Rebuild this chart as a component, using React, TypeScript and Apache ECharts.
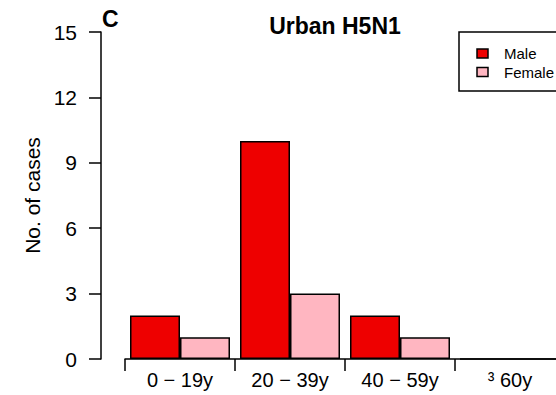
import React, { useEffect, useRef } from "react";
import * as echarts from "echarts";

const categories = ["0 − 19y", "20 − 39y", "40 − 59y", "³ 60y"];
const maleCases = [2, 10, 2, 0];
const femaleCases = [1, 3, 1, 0];
const seriesNames = ["Male", "Female"];
const yTicks = { min: 0, max: 15, interval: 3 };
const titleText = "Urban H5N1";
const panelLabel = "C";
const yAxisName = "No. of cases";

const MALE = "#EE0000";
const FEMALE = "#FFB6C1";
const FONT = "'Liberation Sans', Arial, Helvetica, sans-serif";

export default function App() {
  const ref = useRef<HTMLDivElement>(null);
  useEffect(() => {
    if (!ref.current) return;
    const chart = echarts.init(ref.current, undefined, { renderer: "svg" });
    chart.setOption({
      animation: false,
      backgroundColor: "#ffffff",
      textStyle: { fontFamily: FONT },
      grid: { left: 125, top: 32, width: 440, bottom: 36, containLabel: false },
      xAxis: {
        type: "category",
        data: categories,
        offset: 1,
        axisLine: { show: true, lineStyle: { color: "#000", width: 1.5 } },
        axisTick: { show: true, length: 12, alignWithLabel: false, lineStyle: { color: "#000", width: 1.5 } },
        axisLabel: { color: "#000", fontSize: 20, margin: 10, fontFamily: FONT, interval: 0 },
        splitLine: { show: false },
      },
      yAxis: {
        type: "value",
        min: yTicks.min,
        max: yTicks.max,
        interval: yTicks.interval,
        offset: 24,
        name: yAxisName,
        nameLocation: "middle",
        nameGap: 57,
        nameTextStyle: { color: "#000", fontSize: 21, fontFamily: FONT },
        axisLine: { show: true, lineStyle: { color: "#000", width: 1.5 } },
        axisTick: { show: true, length: 12, lineStyle: { color: "#000", width: 1.5 } },
        axisLabel: { color: "#000", fontSize: 21, margin: 24, fontFamily: FONT },
        splitLine: { show: false },
      },
      series: [
        {
          name: seriesNames[0],
          type: "bar",
          data: maleCases,
          barWidth: 50,
          barGap: "0%",
          itemStyle: { color: MALE, borderColor: "#000", borderWidth: 1.5 },
        },
        {
          name: seriesNames[1],
          type: "bar",
          data: femaleCases,
          barWidth: 50,
          barGap: "0%",
          itemStyle: { color: FEMALE, borderColor: "#000", borderWidth: 1.5 },
        },
      ],
      graphic: [
        {
          type: "text",
          left: 102,
          top: 7,
          style: { text: panelLabel, fontSize: 23, fontWeight: "bold", fill: "#000", fontFamily: FONT },
        },
        {
          type: "text",
          x: 335,
          y: 26,
          style: {
            text: titleText,
            fontSize: 23,
            fontWeight: "bold",
            fill: "#000",
            fontFamily: FONT,
            align: "center",
            verticalAlign: "middle",
          },
        },
        {
          type: "rect",
          shape: { x: 459, y: 32, width: 130, height: 59 },
          style: { fill: "#fff", stroke: "#000", lineWidth: 1.5 },
        },
        {
          type: "rect",
          shape: { x: 477, y: 49, width: 11, height: 9 },
          style: { fill: MALE, stroke: "#000", lineWidth: 1.5 },
        },
        {
          type: "rect",
          shape: { x: 477, y: 67.5, width: 11, height: 9 },
          style: { fill: FEMALE, stroke: "#000", lineWidth: 1.5 },
        },
        {
          type: "text",
          x: 504,
          y: 53.5,
          style: { text: seriesNames[0], fontSize: 15, fill: "#000", fontFamily: FONT, verticalAlign: "middle" },
        },
        {
          type: "text",
          x: 504,
          y: 72,
          style: { text: seriesNames[1], fontSize: 15, fill: "#000", fontFamily: FONT, verticalAlign: "middle" },
        },
      ],
    });
    return () => chart.dispose();
  }, []);
  return (
    <div
      ref={ref}
      style={{ position: "fixed", left: 0, top: 0, width: 575, height: 395, background: "#fff" }}
    />
  );
}
